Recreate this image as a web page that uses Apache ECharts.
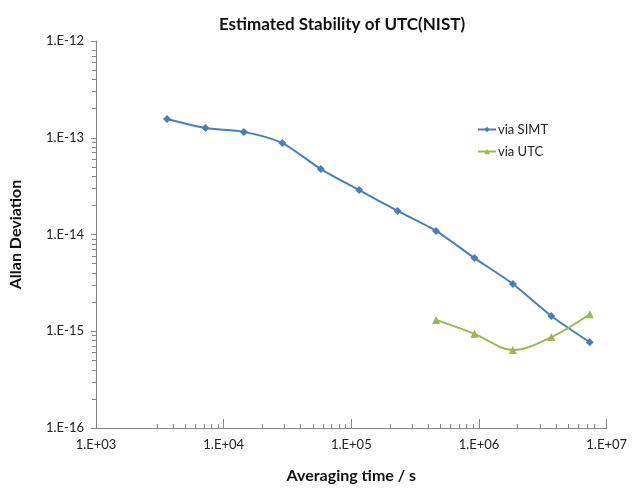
<!DOCTYPE html>
<html>
<head>
<meta charset="utf-8">
<script src="https://cdn.jsdelivr.net/npm/echarts@6/dist/echarts.min.js"></script>
<style>
  html, body { margin: 0; padding: 0; background: #ffffff; }
  #chart { width: 634px; height: 489px; }
</style>
</head>
<body>
<div id="chart"></div>
<script>
// averaging times (s) and Allan deviations
const tauSimt = [3600, 7200, 14400, 28800, 57600, 115200, 230400, 460800, 921600, 1843200, 3686400, 7372800]
const adevSimt = [1.56e-13, 1.26e-13, 1.15e-13, 8.8e-14, 4.75e-14, 2.88e-14, 1.75e-14, 1.09e-14, 5.7e-15, 3.08e-15, 1.44e-15, 7.7e-16]
const tauUtc = [460800, 921600, 1843200, 3686400, 7372800]
const adevUtc = [1.31e-15, 9.4e-16, 6.4e-16, 8.7e-16, 1.5e-15]

// decade exponents shown on the axes
const xDecades = [3, 4, 5, 6, 7]
const yDecades = [-16, -15, -14, -13, -12]

const BLUE = '#4a7ebb'
const GREEN = '#98b954'
const AXIS_COLOR = '#868686'
const FONT = 'Lato, "Open Sans", sans-serif'

// both axes are log10 scaled, so plot the exponents on value axes
const lg = v => Math.log10(v)

// minor ticks at 2..9 inside each decade (in log10 units)
function minorTicks(decades) {
  const out = []
  for (let i = 0; i < decades.length - 1; i++) {
    for (let k = 2; k <= 9; k++) out.push(decades[i] + Math.log10(k))
  }
  return out
}

function expLabel(v, plus) {
  const e = Math.round(v)
  const sign = e < 0 ? '-' : (plus ? '+' : '')
  return `1.E${sign}${String(Math.abs(e)).padStart(2, '0')}`
}

// second axis on the same side, only used to draw the minor ticks
function minorAxis(min, max, decades, position, inside) {
  const ticks = minorTicks(decades)
  return {
    type: 'value',
    min,
    max,
    position,
    splitLine: { show: false },
    axisLine: { show: true, lineStyle: { color: 'rgba(0,0,0,0)' } },
    axisTick: { show: true, inside, length: 4, lineStyle: { color: AXIS_COLOR }, customValues: ticks },
    axisLabel: { show: true, color: 'rgba(0,0,0,0)', fontSize: 8, customValues: ticks }
  }
}

const chart = echarts.init(document.getElementById('chart'))

const labelStyle = { fontFamily: FONT, fontSize: 13, color: '#222' }
const nameStyle = { fontFamily: FONT, fontSize: 16, fontWeight: 'bold', color: '#111' }

chart.setOption({
  animation: false,
  title: {
    text: 'Estimated Stability of UTC(NIST)',
    left: 337,
    top: 11,
    textAlign: 'center',
    textStyle: { fontFamily: FONT, fontSize: 17, fontWeight: 'bold', color: '#111' }
  },
  legend: {
    orient: 'vertical',
    left: 472,
    top: 118,
    itemWidth: 18,
    itemHeight: 7,
    itemGap: 9,
    textStyle: { fontFamily: FONT, fontSize: 13, color: '#222', padding: [0, 0, 0, -3] },
    data: ['via SIMT', 'via UTC']
  },
  grid: { left: 96, right: 23, top: 41, bottom: 61 },
  xAxis: [
    {
      type: 'value',
      min: 3,
      max: 7,
      interval: 1,
      splitLine: { show: false },
      name: 'Averaging time / s',
      nameLocation: 'middle',
      nameGap: 40,
      nameTextStyle: nameStyle,
      axisLine: { lineStyle: { color: AXIS_COLOR } },
      axisTick: { inside: true, length: 9, lineStyle: { color: AXIS_COLOR } },
      axisLabel: { ...labelStyle, margin: 10, formatter: v => expLabel(v, true) }
    },
    minorAxis(3, 7, xDecades, 'bottom', true)
  ],
  yAxis: [
    {
      type: 'value',
      min: -16,
      max: -12,
      interval: 1,
      splitLine: { show: false },
      name: 'Allan Deviation',
      nameLocation: 'middle',
      nameGap: 72,
      nameTextStyle: nameStyle,
      axisLine: { show: true, lineStyle: { color: AXIS_COLOR } },
      axisTick: { show: true, length: 5, lineStyle: { color: AXIS_COLOR } },
      axisLabel: { ...labelStyle, margin: 12, formatter: v => expLabel(v, false) }
    },
    minorAxis(-16, -12, yDecades, 'left', false)
  ],
  series: [
    {
      name: 'via SIMT',
      type: 'line',
      smooth: 0.25,
      symbol: 'diamond',
      symbolSize: 8,
      data: tauSimt.map((t, i) => [lg(t), lg(adevSimt[i])]),
      lineStyle: { color: BLUE, width: 2 },
      itemStyle: { color: BLUE }
    },
    {
      name: 'via UTC',
      type: 'line',
      smooth: 0.35,
      symbol: 'triangle',
      symbolSize: 8,
      data: tauUtc.map((t, i) => [lg(t), lg(adevUtc[i])]),
      lineStyle: { color: GREEN, width: 2 },
      itemStyle: { color: GREEN }
    }
  ]
})
</script>
</body>
</html>
